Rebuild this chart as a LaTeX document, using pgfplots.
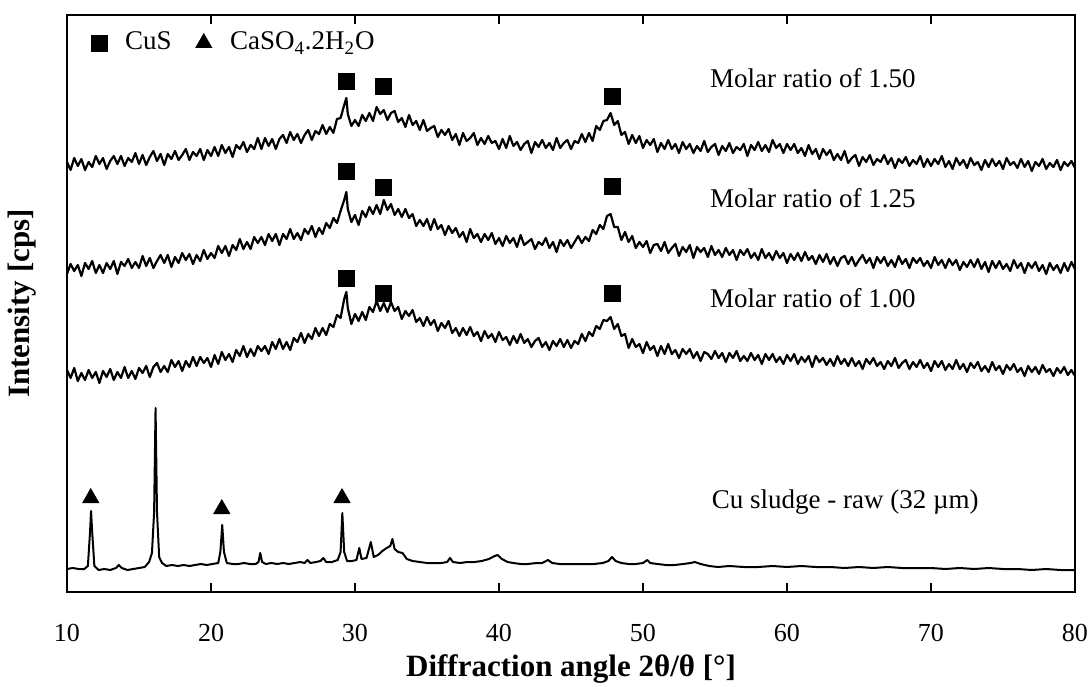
\documentclass[border=0pt]{standalone}
\usepackage{fontspec}
\setmainfont{Liberation Serif}
\usepackage{pgfplots}
\usepackage{pgfplotstable}
\pgfplotsset{compat=1.18}

% heights above the bottom of the frame (arbitrary units), offset per sample
\pgfplotstableread{
x a b c
10.00 430 318 222
10.25 422 328 214
10.50 434 321 224
10.75 426 327 211
11.00 433 316 219
11.25 422 329 212
11.50 430 323 222
11.75 425 331 214
12.00 436 319 220
12.25 428 327 209
12.50 434 319 221
12.75 423 329 215
13.00 431 323 223
13.25 436 331 212
13.50 428 318 220
13.75 436 330 214
14.00 426 326 225
14.25 434 333 214
14.50 430 324 221
14.75 439 330 213
15.00 428 324 224
15.25 437 336 219
15.50 427 326 226
15.75 435 334 215
16.00 441 324 225
16.25 431 331 229
16.50 438 337 220
16.75 427 329 226
17.00 438 337 220
17.25 433 325 232
17.50 441 335 225
17.75 432 329 231
18.00 437 339 221
18.25 443 332 231
18.50 432 338 225
18.75 440 328 235
19.00 436 337 226
19.25 443 331 235
19.50 432 342 229
19.75 442 333 234
20.00 436 339 225
20.25 445 334 237
20.50 436 346 228
20.75 447 339 240
21.00 439 346 232
21.25 445 336 238
21.50 435 347 230
21.75 447 342 242
22.00 443 353 236
22.25 450 343 246
22.50 440 350 235
22.75 447 343 243
23.00 443 355 236
23.25 454 349 246
23.50 443 355 241
23.75 454 347 246
24.00 446 358 238
24.25 453 351 250
24.50 443 358 243
24.75 453 347 253
25.00 457 358 243
25.25 449 353 250
25.50 460 363 242
25.75 452 353 254
26.00 458 359 250
26.25 449 352 259
26.50 457 363 249
26.75 462 358 258
27.00 452 366 253
27.25 461 355 264
27.50 458 364 256
27.75 467 358 264
28.00 458 369 257
28.25 465 364 268
28.50 459 374 265
28.75 473 369 277
29.00 474 381 274
29.25 487 392 293
29.40 494 400 300
29.50 478 383 284
29.75 466 370 268
30.00 472 377 278
30.25 466 367 271
30.50 477 381 280
30.75 471 375 272
31.00 479 385 285
31.25 471 378 280
31.50 485 387 291
31.75 478 378 281
32.00 482 392 289
32.25 472 382 280
32.50 479 388 290
32.75 481 377 281
33.00 470 383 285
33.25 474 375 273
33.50 465 383 281
33.75 477 374 276
34.00 467 378 282
34.25 471 366 270
34.50 462 372 274
34.75 472 366 266
35.00 461 373 275
35.25 464 362 267
35.50 466 373 272
35.75 455 363 261
36.00 462 367 269
36.25 457 357 264
36.50 463 366 271
36.75 452 359 259
37.00 458 364 264
37.25 447 355 256
37.50 459 360 264
37.75 451 350 257
38.00 454 363 265
38.25 459 354 256
38.50 447 358 260
38.75 454 350 251
39.00 448 358 261
39.25 456 352 254
39.50 449 359 258
39.75 451 348 250
40.00 443 354 260
40.25 453 346 252
40.50 444 356 255
40.75 456 349 247
41.00 446 354 256
41.25 450 345 249
41.50 442 357 258
41.75 448 347 249
42.00 451 350 253
42.25 439 353 245
42.50 450 343 251
42.75 445 350 254
43.00 452 347 245
43.25 444 354 250
43.50 449 344 242
43.75 442 350 251
44.00 454 340 246
44.25 444 352 253
44.50 449 346 245
44.75 452 352 252
45.00 443 344 244
45.25 451 350 251
45.50 449 356 248
45.75 458 349 258
46.00 450 355 251
46.25 459 351 260
46.50 451 362 256
46.75 466 358 266
47.00 462 367 263
47.25 471 363 272
47.50 472 376 271
47.75 479 378 275
48.00 467 365 263
48.25 471 365 268
48.50 457 352 256
48.75 460 360 258
49.00 448 350 244
49.25 457 356 253
49.50 449 344 245
49.75 456 350 248
50.00 444 345 239
50.25 452 351 250
50.50 447 339 242
50.75 453 347 246
51.00 440 348 236
51.25 449 341 246
51.50 443 350 238
51.75 452 339 248
52.00 443 344 238
52.25 448 348 242
52.50 439 336 234
52.75 450 345 243
53.00 443 340 238
53.25 448 347 243
53.50 439 334 234
53.75 446 345 240
54.00 441 340 231
54.25 451 344 240
54.50 440 335 238
54.75 445 346 233
55.00 448 337 241
55.25 437 342 234
55.50 446 335 239
55.75 441 344 230
56.00 449 337 239
56.25 439 342 234
56.50 445 332 241
56.75 442 342 231
57.00 448 337 236
57.25 436 343 231
57.50 447 334 239
57.75 442 339 232
58.00 450 332 237
58.25 441 343 228
58.50 447 334 238
58.75 440 339 232
59.00 452 332 238
59.25 444 341 230
59.50 448 334 235
59.75 439 339 228
60.00 448 329 237
60.25 442 338 231
60.50 448 332 238
60.75 439 339 228
61.00 444 331 235
61.25 436 340 230
61.50 447 332 236
61.75 438 336 225
62.00 443 328 236
62.25 433 337 230
62.50 443 330 234
62.75 437 338 227
63.00 442 328 233
63.25 432 335 226
63.50 438 326 236
63.75 432 334 228
64.00 441 336 233
64.25 429 328 226
64.50 434 335 234
64.75 437 326 226
65.00 426 332 231
65.25 435 337 223
65.50 430 329 233
65.75 437 334 228
66.00 427 324 234
66.25 433 335 226
66.50 430 329 230
66.75 437 335 223
67.00 428 326 231
67.25 434 332 226
67.50 424 325 234
67.75 433 336 224
68.00 429 328 229
68.25 435 333 232
68.50 426 324 223
68.75 432 334 230
69.00 428 329 225
69.25 436 334 232
69.50 425 326 224
69.75 433 331 229
70.00 426 324 221
70.25 433 335 231
70.50 428 327 225
70.75 436 332 231
71.00 425 324 222
71.25 431 333 228
71.50 423 327 223
71.75 434 332 232
72.00 427 322 223
72.25 432 330 228
72.50 424 325 220
72.75 434 332 229
73.00 427 325 224
73.25 430 333 230
73.50 422 323 221
73.75 432 330 226
74.00 425 320 220
74.25 433 331 230
74.50 426 324 222
74.75 431 331 226
75.00 423 323 218
75.25 434 328 227
75.50 427 321 222
75.75 430 332 228
76.00 424 324 220
76.25 433 329 224
76.50 425 319 216
76.75 431 329 226
77.00 421 324 220
77.25 430 330 225
77.50 426 321 218
77.75 433 327 227
78.00 423 318 220
78.25 429 329 223
78.50 425 322 216
78.75 432 327 224
79.00 422 319 219
79.25 430 329 225
79.50 426 321 217
79.75 431 330 222
80.00 424 323 216
}\molar

\pgfplotstableread{
x h
10.00 23
10.40 24
10.80 23
11.20 23
11.45 26
11.60 60
11.67 81
11.75 60
11.90 26
12.20 22
12.60 23
13.00 22
13.40 24
13.60 27
13.80 24
14.20 22
14.60 23
15.00 24
15.40 25
15.70 30
15.90 39
16.05 80
16.15 184
16.25 80
16.40 35
16.60 29
16.90 26
17.30 27
17.70 26
18.10 27
18.50 26
18.90 27
19.30 28
19.70 27
20.10 28
20.50 29
20.65 40
20.78 67
20.90 40
21.10 29
21.50 28
21.90 28
22.30 29
22.70 28
23.10 28
23.30 30
23.42 39
23.55 30
23.80 28
24.20 29
24.60 28
25.00 29
25.40 28
25.80 29
26.20 30
26.50 29
26.70 32
26.90 29
27.30 30
27.60 31
27.80 34
28.00 30
28.40 30
28.80 32
29.00 40
29.12 79
29.25 40
29.45 31
29.80 31
30.10 32
30.30 44
30.45 33
30.80 34
31.10 50
31.30 35
31.60 37
31.90 41
32.20 44
32.45 46
32.60 53
32.75 43
33.00 40
33.30 39
33.60 33
34.00 31
34.50 30
35.00 29
35.50 29
36.00 29
36.40 30
36.60 34
36.80 30
37.30 29
37.80 30
38.30 30
38.80 31
39.30 33
39.70 36
39.90 37
40.20 33
40.60 30
41.00 29
41.50 28
42.00 28
42.60 29
43.00 29
43.40 32
43.70 29
44.20 28
44.80 28
45.40 28
46.00 28
46.60 28
47.20 29
47.60 31
47.85 35
48.10 31
48.50 29
49.00 28
49.50 28
50.00 29
50.30 32
50.50 29
51.00 28
51.60 27
52.20 27
52.80 28
53.30 29
53.60 30
54.00 28
54.60 26
55.20 25
56.00 26
57.00 25
58.00 25
59.00 26
60.00 25
61.00 26
62.00 25
63.00 25
64.00 24
65.00 25
66.00 24
67.00 25
68.00 24
69.00 24
70.00 24
71.00 23
72.00 24
73.00 23
74.00 24
75.00 23
76.00 23
77.00 22
78.00 23
79.00 22
80.00 22
}\raw

\begin{document}
\begin{tikzpicture}
\useasboundingbox (-33.5pt,-47pt) rectangle (512pt,296pt);
\begin{axis}[
  scale only axis,
  width=504pt, height=288.5pt,
  xmin=10, xmax=80, ymin=0, ymax=577,
  xtick={10,20,...,80}, ytick=\empty,
  tick align=inside,
  major tick length=4.5pt,
  xtick style={line width=1pt, black},
  axis line style={line width=1pt},
  /pgf/number format/assume math mode=true,
  xticklabel style={font=\fontsize{13}{15}\selectfont, yshift=-12.5pt},
  xlabel={Diffraction angle 2θ/θ [°]},
  xlabel style={font=\fontsize{15.5}{18}\selectfont\bfseries,
    at={(axis description cs:0.5,-0.1335)}, anchor=center},
  ylabel={Intensity [cps]},
  ylabel style={font=\fontsize{15.5}{18}\selectfont\bfseries,
    at={(axis description cs:-0.0446,0.5)}, anchor=center},
  clip=false,
]
\addplot[black, line width=1.1pt, line join=round] table[x=x, y=a] {\molar};
\addplot[black, line width=1.1pt, line join=round] table[x=x, y=b] {\molar};
\addplot[black, line width=1.1pt, line join=round] table[x=x, y=c] {\molar};
\addplot[black, line width=1pt, line join=round] table[x=x, y=h] {\raw};

% phase markers
\addplot[only marks, mark=square*, mark size=4pt, black] coordinates {
  (29.41,511) (31.94,506) (47.85,496)
  (29.41,421) (31.94,405) (47.85,406)
  (29.41,314) (31.94,299) (47.85,299)
  (12.22,549)
};
\addplot[only marks, mark=triangle*, mark size=4.6pt, black] coordinates {
  (11.65,94) (20.75,83) (29.10,94)
  (19.50,549)
};

\node[anchor=base west, font=\fontsize{13.5}{16}\selectfont] at (axis cs:13.54,542) {CuS};
\node[anchor=base west, font=\fontsize{13.5}{16}\selectfont] at (axis cs:20.83,542) {CaSO\textsubscript{4}.2H\textsubscript{2}O};
\node[anchor=base west, font=\fontsize{13.5}{16}\selectfont] at (axis cs:54.17,504) {Molar ratio of 1.50};
\node[anchor=base west, font=\fontsize{13.5}{16}\selectfont] at (axis cs:54.17,385) {Molar ratio of 1.25};
\node[anchor=base west, font=\fontsize{13.5}{16}\selectfont] at (axis cs:54.17,285) {Molar ratio of 1.00};
\node[anchor=base west, font=\fontsize{13.5}{16}\selectfont] at (axis cs:54.30,84) {Cu sludge - raw (32 µm)};
\end{axis}
\end{tikzpicture}
\end{document}
